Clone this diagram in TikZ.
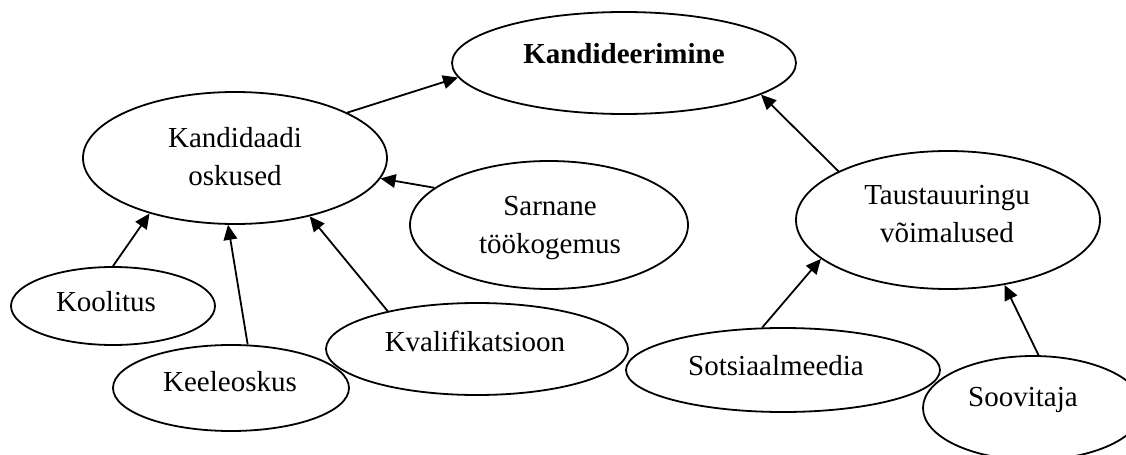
\documentclass[tikz,border=0pt]{standalone}
\usepackage{fontspec}
\setmainfont{Liberation Serif}
\usetikzlibrary{shapes.geometric,arrows.meta}
\begin{document}
\begin{tikzpicture}[x=0.5pt,y=-0.5pt,
  oval/.style={draw, ellipse, line width=0.9pt, inner sep=0pt},
  lbl/.style={anchor=base, align=center, inner sep=0pt,
    font=\fontsize{14.5}{19}\selectfont},
  link/.style={line width=0.9pt, -{Triangle[length=7.5pt,width=6.8pt]}},
]
\useasboundingbox (0,0) rectangle (1126,455);

% ovals (centre in px, size = radii in pt)
\node[oval, minimum width=172pt, minimum height=51pt] (cand)   at (624,63)  {};
\node[oval, minimum width=152pt, minimum height=66pt] (skills) at (235,158) {};
\node[oval, minimum width=139pt, minimum height=64pt] (exper)  at (549,225) {};
\node[oval, minimum width=152pt, minimum height=69pt] (bg)     at (948,220) {};
\node[oval, minimum width=102pt, minimum height=39pt] (kool)   at (113,306) {};
\node[oval, minimum width=118pt, minimum height=43pt] (keel)   at (231,388) {};
\node[oval, minimum width=151pt, minimum height=46pt] (kval)   at (477,349) {};
\node[oval, minimum width=157pt, minimum height=42pt] (sots)   at (783,370) {};
\node[oval, minimum width=110pt, minimum height=52pt] (soov)   at (1033,408) {};

% labels (anchored on the baseline of the last line)
\node[lbl, font=\fontsize{14.5}{19}\selectfont\bfseries] (candT) at (624,63) {Kandideerimine};
\node[lbl] (skillsT) at (235,185) {Kandidaadi\\oskused};
\node[lbl] (experT)  at (550,253) {Sarnane\\töökogemus};
\node[lbl] (bgT)     at (947,242) {Taustauuringu\\võimalused};
\node[lbl] (koolT)   at (106,311) {Koolitus};
\node[lbl] (keelT)   at (230,391) {Keeleoskus};
\node[lbl] (kvalT)   at (475,351) {Kvalifikatsioon};
\node[lbl] (sotsT)   at (776,375) {Sotsiaalmeedia};
\node[lbl] (soovT)   at (1023,406) {Soovitaja};

% connectors
\draw[link] (skills.22.6)  -- (cand.185.3);
\draw[link] (exper.162.6)  -- (skills.352.9);
\draw[link] (kool.90)      -- (skills.213.5);
\draw[link] (keel.69.6)    -- (skills.264.8);
\draw[link] (kval.157.3)   -- (skills.322.5);
\draw[link] (bg.156.9)     -- (cand.347);
\draw[link] (sots.116.6)   -- (bg.197.4);
\draw[link] (soov.84.4)    -- (bg.311.1);
\end{tikzpicture}
\end{document}
